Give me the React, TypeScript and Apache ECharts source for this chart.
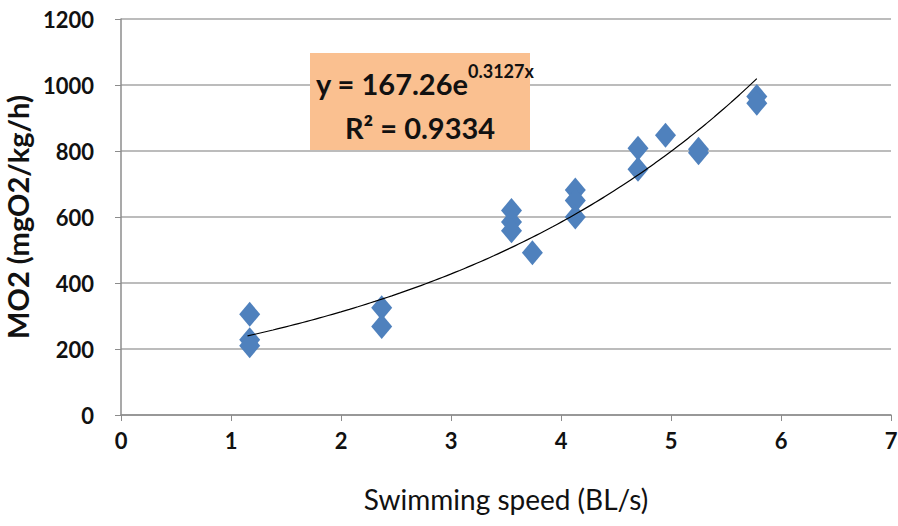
import React, { useEffect, useRef } from "react";
import * as echarts from "echarts";

const speeds = [1.17, 1.17, 1.17, 2.37, 2.37, 3.55, 3.55, 3.55, 3.74, 4.13, 4.13, 4.13, 4.7, 4.7, 4.95, 5.25, 5.25, 5.78, 5.78];
const mo2 = [305, 228, 210, 325, 268, 620, 585, 558, 492, 682, 650, 600, 808, 745, 848, 805, 795, 965, 945];
const xTicks = [0, 1, 2, 3, 4, 5, 6, 7];
const yTicks = [0, 200, 400, 600, 800, 1000, 1200];
const fitCoef = [167.26, 0.3127];
const fitRange = [1.15, 5.78];
const eqLine1 = "y = 167.26e";
const eqSup = "0.3127x";
const eqLine2 = "R² = 0.9334";

export default function App() {
  const ref = useRef<HTMLDivElement>(null);
  useEffect(() => {
    if (!ref.current) return;
    const chart = echarts.init(ref.current, null, { renderer: "svg" });
    const trend: number[][] = [];
    const n = 60;
    for (let i = 0; i <= n; i++) {
      const x = fitRange[0] + ((fitRange[1] - fitRange[0]) * i) / n;
      trend.push([x, fitCoef[0] * Math.exp(fitCoef[1] * x)]);
    }
    const font = "Lato, 'Open Sans', sans-serif";
    chart.setOption({
      animation: false,
      backgroundColor: "#ffffff",
      grid: { left: 121, right: 7, top: 19, bottom: 111, containLabel: false, outerBoundsMode: "none" },
      xAxis: {
        type: "value",
        min: xTicks[0],
        max: xTicks[xTicks.length - 1],
        interval: 1,
        name: "Swimming speed (BL/s)",
        nameLocation: "middle",
        nameGap: 70,
        nameTextStyle: { fontFamily: font, fontSize: 28, color: "#111" },
        axisLine: { show: true, lineStyle: { color: "#8c8c8c", width: 1.5 } },
        axisTick: { show: true, length: 6, lineStyle: { color: "#8c8c8c" } },
        axisLabel: { fontFamily: font, fontSize: 22, fontWeight: "bold", color: "#111", margin: 14 },
        splitLine: { show: false },
      },
      yAxis: {
        type: "value",
        min: yTicks[0],
        max: yTicks[yTicks.length - 1],
        interval: 200,
        name: "MO2 (mgO2/kg/h)",
        nameLocation: "middle",
        nameRotate: 90,
        nameGap: 80,
        nameTextStyle: { fontFamily: font, fontSize: 29, fontWeight: "bold", color: "#111" },
        axisLine: { show: true, lineStyle: { color: "#8c8c8c", width: 1.5 } },
        axisTick: { show: true, inside: false, length: 6, lineStyle: { color: "#8c8c8c" } },
        axisLabel: {
          fontFamily: font,
          fontSize: 22,
          fontWeight: "bold",
          color: "#111",
          margin: 27,
          formatter: (v: number) => String(v),
        },
        splitLine: { show: true, lineStyle: { color: "#a6a6a6", width: 1.5 } },
      },
      series: [
        {
          type: "line",
          data: trend,
          showSymbol: false,
          symbol: "none",
          smooth: true,
          lineStyle: { color: "#000", width: 1.2 },
          z: 3,
        },
        {
          type: "scatter",
          data: speeds.map((s, i) => [s, mo2[i]]),
          symbol: "diamond",
          symbolSize: [21, 25],
          itemStyle: { color: "#4f81bd", opacity: 1 },
          z: 2,
        },
      ],
      graphic: [
        {
          type: "rect",
          shape: { x: 310, y: 53, width: 220, height: 97 },
          style: { fill: "#fac090" },
          z: 10,
        },
        {
          type: "text",
          x: 316,
          y: 83,
          style: { text: eqLine1, fontFamily: font, fontSize: 29, fontWeight: "bold", fill: "#111", align: "left", verticalAlign: "middle" },
          z: 11,
        },
        {
          type: "text",
          x: 468,
          y: 71,
          style: { text: eqSup, fontFamily: font, fontSize: 18, fontWeight: "bold", fill: "#111", align: "left", verticalAlign: "middle" },
          z: 11,
        },
        {
          type: "text",
          x: 420,
          y: 127,
          style: { text: eqLine2, fontFamily: font, fontSize: 29, fontWeight: "bold", fill: "#111", align: "center", verticalAlign: "middle" },
          z: 11,
        },
      ],
    });
    return () => chart.dispose();
  }, []);
  return <div ref={ref} style={{ width: 898, height: 526, position: "absolute", left: 0, top: 0 }} />;
}
